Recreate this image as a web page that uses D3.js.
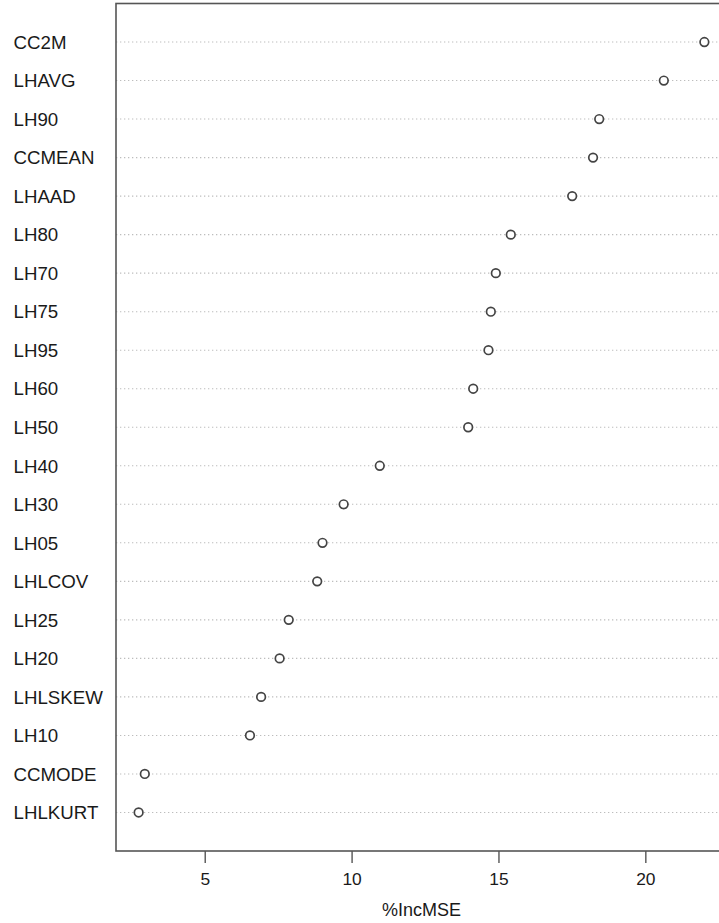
<!DOCTYPE html>
<html>
<head>
<meta charset="utf-8">
<script src="https://cdn.jsdelivr.net/npm/d3@7"></script>
<style>
  body { margin: 0; background: #fff; }
  svg { display: block; font-family: "Liberation Sans", Arial, Helvetica, sans-serif; }
</style>
</head>
<body>
<div id="vis1"></div>
<script>
// variable importance, top to bottom as shown
const variables = ['CC2M', 'LHAVG', 'LH90', 'CCMEAN', 'LHAAD', 'LH80', 'LH70', 'LH75', 'LH95', 'LH60',
  'LH50', 'LH40', 'LH30', 'LH05', 'LHLCOV', 'LH25', 'LH20', 'LHLSKEW', 'LH10', 'CCMODE', 'LHLKURT'];
const incMSE = [22.01, 20.63, 18.43, 18.22, 17.51, 15.42, 14.91, 14.74, 14.66, 14.14,
  13.97, 10.96, 9.73, 9.01, 8.83, 7.86, 7.55, 6.92, 6.54, 2.96, 2.75];
const xTicks = [5, 10, 15, 20];
const xLabel = '%IncMSE';

const W = 719, H = 923;
const margin = { top: 3.5, left: 116, right: -8, bottom: 72 };
const width = W - margin.left - margin.right,
  height = H - margin.top - margin.bottom;

const data = variables.map((v, i) => ({ name: v, value: incMSE[i] }));

let svg1 = d3.select('#vis1')
  .append('svg')
  .attr('width', W)
  .attr('height', H);

// R style 4% padding on x range
let ext = d3.extent(incMSE);
let pad = (ext[1] - ext[0]) * 0.04;
let x = d3.scaleLinear()
  .domain([ext[0] - pad, ext[1] + pad])
  .range([margin.left, margin.left + width]);

// rows 1..n from bottom, ylim 0..n+1
let y = d3.scaleLinear()
  .domain([0, variables.length + 1])
  .range([margin.top + height, margin.top]);
const row = i => variables.length - i;

// dotted guide lines
svg1.append('g')
  .selectAll('line')
  .data(data)
  .join('line')
    .attr('x1', margin.left)
    .attr('x2', W)
    .attr('y1', (d, i) => y(row(i)))
    .attr('y2', (d, i) => y(row(i)))
    .attr('stroke', '#bdbdbd')
    .attr('stroke-width', 1.1)
    .attr('stroke-dasharray', '1.3,2.7');

// points
svg1.append('g')
  .selectAll('circle')
  .data(data)
  .join('circle')
    .attr('cx', d => x(d.value))
    .attr('cy', (d, i) => y(row(i)))
    .attr('r', 4.3)
    .attr('fill', '#fff')
    .attr('stroke', '#444')
    .attr('stroke-width', 1.7);

// row labels
svg1.append('g')
  .selectAll('text')
  .data(data)
  .join('text')
    .attr('x', 13.5)
    .attr('y', (d, i) => y(row(i)))
    .attr('dy', '0.36em')
    .attr('font-size', 18.7)
    .attr('fill', '#1a1a1a')
    .text(d => d.name);

// box
svg1.append('rect')
  .attr('x', margin.left)
  .attr('y', margin.top)
  .attr('width', width)
  .attr('height', height)
  .attr('fill', 'none')
  .attr('stroke', '#555')
  .attr('stroke-width', 1.6);

// x axis
let xAxis = svg1.append('g')
  .attr('transform', `translate(0,${margin.top + height})`)
  .call(d3.axisBottom(x).tickValues(xTicks).tickSize(12).tickPadding(10).tickSizeOuter(0));
xAxis.select('.domain').remove();
xAxis.selectAll('line').attr('stroke', '#555').attr('stroke-width', 1.4);
xAxis.selectAll('text')
  .attr('font-size', 17.4)
  .attr('fill', '#1a1a1a')
  .attr('font-family', '"Liberation Sans", Arial, sans-serif');

// x label
svg1.append('text')
  .attr('x', margin.left + width / 2)
  .attr('y', 916)
  .attr('text-anchor', 'middle')
  .attr('font-size', 18)
  .attr('fill', '#1a1a1a')
  .text(xLabel);
</script>
</body>
</html>
